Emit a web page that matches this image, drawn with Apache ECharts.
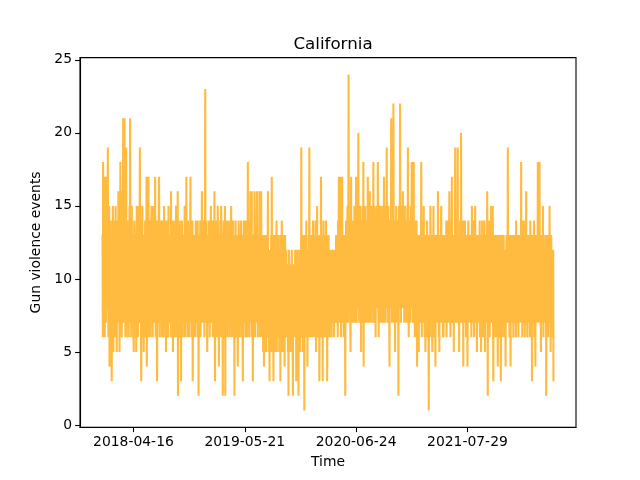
<!DOCTYPE html>
<html>
<head>
<meta charset="utf-8">
<script src="https://cdn.jsdelivr.net/npm/echarts@6/dist/echarts.min.js"></script>
<style>
  html, body { margin: 0; padding: 0; background: #fff; }
  #chart { width: 640px; height: 480px; }
</style>
</head>
<body>
<div id="chart"></div>
<script>
// daily counts, first day = startDate
const startDate = "2017-12-26";
const tickLabels = ["2018-04-16", "2019-05-21", "2020-06-24", "2021-07-29"];
const yTicks = [0, 5, 10, 15, 20, 25];

const events = [
  13, 6, 18, 8, 14, 7, 12, 15, 6, 17, 9, 14, 7, 12, 16, 17, 8, 11, 14, 19, 9, 6, 13, 10, 15, 4, 7, 14, 9, 4,
  8, 13, 6, 3, 11, 14, 7, 15, 10, 5, 13, 8, 11, 14, 6, 12, 9, 15, 7, 10, 13, 5, 12, 8, 14, 9, 11, 16, 7, 13,
  10, 5, 14, 8, 18, 12, 7, 15, 9, 6, 13, 10, 16, 8, 21, 7, 13, 10, 15, 21, 8, 12, 6, 17, 10, 19, 6, 14, 8, 12,
  7, 14, 9, 13, 6, 12, 8, 15, 10, 21, 13, 7, 11, 6, 14, 15, 9, 7, 13, 8, 12, 6, 5, 11, 14, 13, 8, 12, 6, 10,
  13, 5, 9, 15, 7, 12, 10, 6, 14, 8, 15, 11, 7, 10, 19, 13, 8, 12, 6, 3, 11, 14, 7, 15, 9, 12, 6, 11, 5, 13,
  8, 12, 6, 14, 10, 7, 13, 9, 17, 4, 12, 7, 15, 10, 8, 17, 11, 6, 14, 9, 7, 13, 6, 12, 8, 14, 15, 7, 11, 13,
  6, 12, 8, 15, 10, 7, 13, 8, 11, 17, 9, 6, 14, 8, 13, 7, 3, 12, 10, 14, 7, 9, 15, 17, 10, 6, 12, 8, 14, 7,
  12, 8, 14, 6, 10, 14, 7, 13, 9, 12, 6, 15, 10, 7, 13, 14, 8, 12, 5, 10, 14, 7, 13, 8, 12, 6, 10, 15, 7, 13,
  9, 7, 13, 8, 12, 6, 16, 10, 7, 14, 8, 12, 13, 5, 11, 7, 14, 9, 12, 6, 13, 10, 7, 9, 15, 11, 6, 13, 10, 8,
  16, 2, 12, 8, 13, 7, 10, 14, 6, 12, 8, 13, 3, 11, 7, 14, 12, 8, 6, 13, 10, 12, 7, 11, 9, 15, 6, 10, 13, 8,
  7, 17, 10, 13, 8, 6, 12, 14, 7, 10, 13, 8, 6, 12, 10, 14, 17, 7, 13, 9, 12, 6, 10, 14, 3, 8, 13, 7, 11, 10,
  13, 8, 6, 12, 10, 14, 11, 7, 13, 8, 10, 6, 14, 9, 12, 2, 10, 13, 7, 12, 8, 14, 6, 10, 13, 8, 11, 16, 7, 10,
  8, 13, 10, 7, 14, 12, 6, 10, 13, 23, 8, 12, 7, 14, 10, 13, 5, 9, 12, 7, 13, 10, 14, 8, 12, 6, 10, 13, 7, 15,
  10, 7, 13, 12, 8, 14, 6, 10, 13, 8, 12, 7, 16, 10, 3, 13, 8, 12, 7, 14, 10, 6, 13, 8, 15, 12, 7, 10, 4, 13,
  8, 12, 7, 14, 10, 6, 15, 13, 8, 12, 7, 10, 2, 13, 8, 14, 6, 12, 10, 7, 15, 2, 12, 8, 13, 7, 10, 14, 6, 12,
  10, 7, 13, 8, 12, 14, 6, 10, 13, 7, 12, 8, 15, 10, 6, 13, 8, 12, 7, 14, 10, 6, 12, 8, 2, 13, 10, 7, 14, 8,
  12, 6, 10, 13, 8, 7, 4, 12, 10, 14, 7, 8, 13, 6, 10, 12, 7, 13, 14, 8, 10, 6, 12, 7, 3, 13, 8, 10, 14, 7,
  14, 8, 12, 6, 10, 13, 7, 14, 8, 12, 6, 10, 18, 8, 13, 7, 12, 10, 6, 14, 8, 16, 7, 12, 10, 13, 16, 6, 10, 8,
  3, 12, 8, 13, 7, 10, 16, 8, 6, 12, 13, 7, 10, 8, 14, 16, 7, 12, 6, 10, 13, 8, 7, 12, 16, 10, 6, 13, 8, 7,
  16, 8, 6, 12, 7, 10, 13, 5, 9, 12, 4, 7, 10, 13, 6, 9, 12, 5, 10, 7, 13, 8, 6, 11, 16, 7, 12, 5, 9, 10,
  3, 11, 7, 12, 6, 9, 13, 5, 17, 10, 7, 12, 6, 9, 3, 13, 7, 10, 5, 12, 8, 6, 13, 7, 10, 14, 5, 9, 12, 7,
  6, 10, 13, 7, 9, 5, 12, 7, 10, 3, 13, 6, 9, 12, 14, 7, 10, 5, 9, 13, 6, 10, 7, 12, 4, 9, 13, 6, 10, 7,
  12, 8, 6, 10, 7, 11, 5, 9, 2, 10, 12, 6, 9, 11, 7, 5, 10, 8, 11, 6, 12, 7, 10, 5, 2, 9, 11, 7, 10, 6,
  10, 7, 12, 6, 9, 11, 3, 10, 7, 12, 5, 9, 11, 6, 2, 10, 7, 12, 8, 5, 11, 7, 10, 6, 19, 8, 13, 7, 10, 5,
  12, 8, 6, 13, 7, 1, 10, 8, 13, 6, 11, 7, 14, 10, 8, 12, 4, 10, 7, 12, 6, 13, 9, 19, 10, 7, 12, 6, 13, 8,
  7, 12, 10, 6, 13, 8, 14, 7, 10, 12, 6, 13, 8, 10, 7, 14, 11, 5, 10, 13, 8, 15, 7, 12, 10, 6, 13, 8, 11, 3,
  10, 13, 7, 12, 8, 17, 10, 6, 13, 8, 12, 3, 10, 7, 14, 8, 12, 6, 13, 10, 7, 12, 8, 14, 6, 10, 13, 3, 8, 12,
  7, 10, 13, 8, 12, 6, 12, 10, 7, 11, 8, 12, 10, 6, 11, 8, 12, 7, 10, 11, 8, 12, 6, 10, 11, 7, 12, 8, 10, 13,
  8, 12, 7, 13, 10, 6, 14, 8, 12, 17, 10, 7, 13, 8, 12, 17, 10, 6, 13, 9, 14, 17, 7, 12, 10, 13, 8, 6, 12, 10,
  13, 8, 2, 12, 10, 14, 7, 13, 9, 12, 15, 10, 7, 13, 24, 12, 8, 14, 10, 13, 7, 5, 12, 17, 10, 14, 8, 13, 11, 7,
  14, 9, 13, 8, 12, 15, 7, 13, 10, 14, 8, 17, 12, 7, 13, 10, 15, 8, 12, 20, 10, 14, 7, 13, 11, 8, 15, 10, 13, 5,
  12, 14, 8, 13, 10, 15, 7, 18, 4, 13, 10, 14, 8, 12, 15, 7, 13, 10, 14, 8, 12, 13, 7, 17, 10, 14, 8, 13, 11, 7,
  16, 10, 14, 8, 13, 11, 7, 15, 10, 13, 8, 14, 11, 18, 7, 13, 10, 15, 8, 12, 14, 6, 13, 10, 12, 15, 8, 13, 10, 18,
  12, 8, 6, 14, 10, 13, 7, 15, 11, 8, 14, 10, 13, 7, 12, 15, 8, 13, 10, 14, 7, 17, 12, 8, 13, 10, 15, 7, 13, 11,
  10, 19, 13, 8, 14, 11, 7, 15, 10, 13, 8, 4, 12, 14, 10, 13, 8, 21, 12, 15, 7, 13, 10, 14, 8, 22, 12, 7, 13, 10,
  14, 5, 12, 13, 8, 15, 10, 7, 13, 11, 14, 8, 10, 2, 13, 15, 8, 12, 14, 22, 10, 13, 7, 12, 15, 8, 13, 10, 14, 16,
  8, 13, 10, 14, 7, 12, 15, 10, 13, 8, 14, 11, 7, 13, 10, 15, 8, 19, 12, 13, 6, 10, 14, 8, 12, 13, 7, 15, 10, 12,
  13, 18, 8, 12, 14, 7, 10, 13, 18, 8, 12, 14, 6, 10, 13, 8, 12, 7, 14, 10, 4, 13, 8, 12, 7, 10, 5, 13, 8, 12,
  10, 7, 13, 8, 12, 18, 10, 6, 13, 8, 14, 12, 7, 10, 15, 8, 13, 6, 12, 10, 5, 8, 13, 7, 12, 10, 14, 6, 9, 13,
  12, 7, 1, 10, 13, 8, 6, 12, 15, 10, 7, 13, 8, 12, 6, 5, 10, 13, 7, 15, 8, 12, 6, 10, 13, 7, 4, 12, 8, 10,
  13, 8, 12, 7, 10, 16, 8, 13, 6, 12, 5, 10, 13, 7, 9, 12, 14, 15, 7, 10, 13, 8, 12, 6, 10, 6, 13, 8, 12, 7,
  10, 13, 7, 12, 8, 14, 6, 10, 13, 8, 12, 7, 14, 10, 8, 13, 16, 7, 12, 10, 6, 13, 8, 14, 10, 17, 7, 12, 8, 13,
  8, 12, 5, 13, 10, 7, 14, 19, 10, 13, 8, 12, 7, 14, 10, 13, 19, 8, 12, 7, 10, 5, 13, 8, 12, 14, 7, 10, 20, 12,
  8, 13, 7, 12, 10, 14, 4, 10, 13, 8, 12, 7, 14, 10, 8, 13, 6, 12, 10, 7, 13, 4, 8, 12, 14, 7, 10, 13, 8, 12,
  10, 7, 13, 8, 12, 6, 10, 15, 8, 13, 7, 12, 10, 14, 8, 6, 12, 10, 13, 15, 7, 10, 8, 13, 12, 5, 10, 7, 13, 8,
  12, 8, 13, 7, 10, 14, 6, 12, 8, 13, 5, 10, 7, 12, 14, 8, 10, 6, 13, 8, 12, 7, 14, 10, 5, 13, 8, 12, 7, 10,
  13, 8, 16, 10, 2, 12, 8, 13, 7, 10, 14, 6, 12, 8, 13, 10, 15, 7, 12, 8, 13, 10, 15, 7, 3, 12, 8, 13, 6, 10,
  12, 7, 10, 13, 8, 6, 12, 10, 13, 7, 4, 10, 12, 8, 13, 6, 10, 12, 7, 13, 13, 3, 10, 8, 12, 7, 13, 10, 6, 12,
  8, 13, 7, 10, 12, 12, 6, 10, 4, 12, 8, 13, 7, 10, 12, 8, 19, 10, 7, 13, 8, 12, 6, 10, 13, 8, 4, 12, 7, 10,
  13, 8, 12, 7, 13, 10, 6, 13, 8, 12, 10, 7, 13, 8, 12, 6, 14, 10, 7, 13, 8, 12, 10, 13, 6, 10, 13, 7, 12, 8,
  10, 13, 7, 12, 18, 8, 10, 13, 6, 12, 8, 14, 7, 10, 13, 8, 12, 6, 10, 14, 7, 13, 16, 8, 12, 10, 6, 13, 8, 12,
  7, 10, 13, 8, 12, 6, 10, 14, 7, 12, 8, 13, 10, 3, 12, 8, 13, 7, 10, 12, 14, 8, 6, 13, 10, 4, 12, 8, 13, 7,
  10, 13, 8, 12, 18, 7, 10, 13, 8, 12, 18, 10, 7, 13, 8, 5, 12, 10, 13, 7, 12, 8, 15, 10, 6, 13, 8, 12, 7, 10,
  8, 12, 7, 13, 2, 10, 8, 12, 7, 13, 10, 6, 12, 8, 13, 10, 15, 7, 12, 8, 5, 10, 13, 7, 12, 12, 8, 12, 6, 12, 3
];

const DAY = 86400000;
const t0 = Date.parse(startDate + "T00:00:00Z");
const tickPos = tickLabels.map(d => Math.round((Date.parse(d + "T00:00:00Z") - t0) / DAY));
const lastIdx = events.length - 1;
const xPad = lastIdx * 0.05;

const chart = echarts.init(document.getElementById("chart"), null, { renderer: "canvas" });

const font = "DejaVu Sans";
chart.setOption({
  animation: false,
  backgroundColor: "#fff",
  title: {
    text: "California",
    left: 328,
    top: 31,
    textAlign: "center",
    textStyle: { fontFamily: font, fontSize: 16.7, fontWeight: "normal", color: "#000" }
  },
  grid: {
    left: 80, right: 64, top: 57.6, bottom: 52.8,
    show: true, borderColor: "#000", borderWidth: 1.1, backgroundColor: "transparent"
  },
  xAxis: {
    type: "value",
    min: -xPad,
    max: lastIdx + xPad,
    name: "Time",
    nameLocation: "middle",
    nameGap: 28,
    nameTextStyle: { fontFamily: font, fontSize: 13.9, color: "#000" },
    axisLine: { show: true, onZero: false, lineStyle: { color: "#000", width: 1.1 } },
    axisTick: { show: true, length: 4.9, lineStyle: { color: "#000", width: 1.1 }, customValues: tickPos },
    axisLabel: {
      customValues: tickPos,
      margin: 8,
      fontFamily: font, fontSize: 13.9, color: "#000",
      formatter: v => tickLabels[tickPos.indexOf(Math.round(v))] || ""
    },
    splitLine: { show: false }
  },
  yAxis: {
    type: "value",
    min: -0.15,
    max: 25.15,
    name: "Gun violence events",
    nameLocation: "middle",
    nameGap: 28,
    nameTextStyle: { fontFamily: font, fontSize: 13.9, color: "#000" },
    axisLine: { show: true, onZero: false, lineStyle: { color: "#000", width: 1.1 } },
    axisTick: { show: true, length: 4.9, lineStyle: { color: "#000", width: 1.1 }, customValues: yTicks },
    axisLabel: {
      customValues: yTicks,
      margin: 8,
      fontFamily: font, fontSize: 13.9, color: "#000"
    },
    splitLine: { show: false }
  },
  series: [{
    type: "line",
    data: events.map((v, i) => [i, v]),
    showSymbol: false,
    sampling: null,
    lineStyle: { color: "#ffbb40", width: 2.1 },
    itemStyle: { color: "#ffbb40" }
  }]
});
</script>
</body>
</html>
